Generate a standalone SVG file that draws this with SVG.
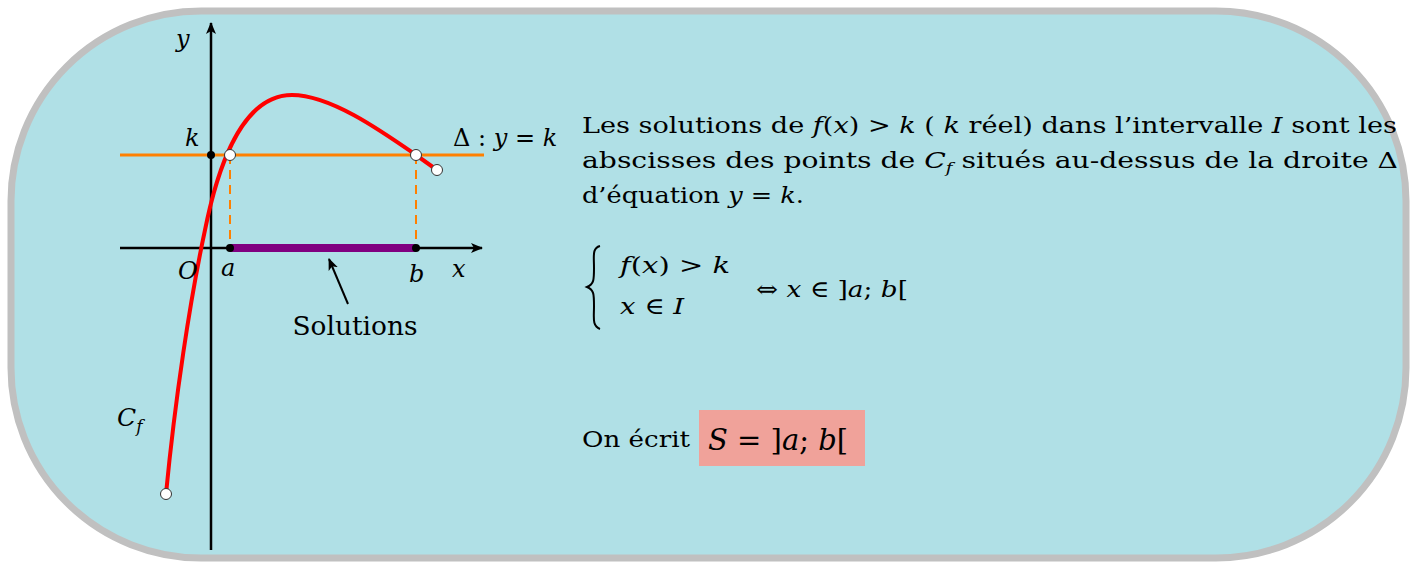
<svg xmlns="http://www.w3.org/2000/svg" width="1415" height="563" viewBox="0 0 1415 563">
<style>
.t{font-family:"DejaVu Serif","Liberation Serif",serif;fill:#000}
.i{font-style:italic}
.m{font-family:"DejaVu Serif","Liberation Serif",serif;font-style:italic;fill:#000}
</style>
<defs>
<marker id="ah" viewBox="0 0 12 10" refX="11" refY="5" markerWidth="12" markerHeight="10" markerUnits="userSpaceOnUse" orient="auto">
<path d="M0,0 L12,5 L0,10 L3,5 Z" fill="#000"/>
</marker>
</defs>
<rect id="frame" x="11" y="11" width="1395" height="547" rx="190" ry="190" fill="#B0E0E6" stroke="#C0C0C0" stroke-width="7"/>
<g id="graph">
<line x1="120" y1="155" x2="484" y2="155" stroke="#FF8000" stroke-width="3"/>
<line x1="230" y1="155" x2="230" y2="248" stroke="#FF8000" stroke-width="2" stroke-dasharray="9,6"/>
<line x1="416" y1="155" x2="416" y2="248" stroke="#FF8000" stroke-width="2" stroke-dasharray="9,6"/>
<line x1="120" y1="248" x2="482" y2="248" stroke="#000" stroke-width="2.5" marker-end="url(#ah)"/>
<line x1="211" y1="550" x2="211" y2="23" stroke="#000" stroke-width="2.5" marker-end="url(#ah)"/>
<line x1="230" y1="248" x2="416" y2="248" stroke="#800080" stroke-width="8"/>
<path d="M166,494 C175,400 190,300 205,230 C215,180 238,95 292,95 C330,95 380,130 416,155 L437,170" fill="none" stroke="#FF0000" stroke-width="4"/>
<circle cx="211" cy="155" r="4" fill="#000"/>
<circle cx="230" cy="248" r="4" fill="#000"/>
<circle cx="416" cy="248" r="4" fill="#000"/>
<circle cx="230" cy="155" r="5.5" fill="#fff" stroke="#333" stroke-width="1"/>
<circle cx="416" cy="155" r="5.5" fill="#fff" stroke="#333" stroke-width="1"/>
<circle cx="437" cy="170" r="5.5" fill="#fff" stroke="#333" stroke-width="1"/>
<circle cx="166" cy="494" r="5.5" fill="#fff" stroke="#333" stroke-width="1"/>
<text class="m" x="176" y="47" font-size="24">y</text>
<text class="m" x="185" y="146" font-size="24">k</text>
<text class="m" x="178" y="279" font-size="24">O</text>
<text class="m" x="221" y="276" font-size="24">a</text>
<text class="m" x="409" y="282" font-size="24">b</text>
<text class="m" x="452" y="277" font-size="24">x</text>
<text class="t" x="453" y="146" font-size="24">Δ : <tspan class="i">y</tspan> = <tspan class="i">k</tspan></text>
<text class="m" x="117" y="426" font-size="25">C<tspan font-size="17" dy="6">f</tspan></text>
<line x1="348" y1="304" x2="329" y2="259" stroke="#000" stroke-width="2" marker-end="url(#ah)"/>
<text class="t" x="355" y="335" font-size="26" text-anchor="middle" textLength="125" lengthAdjust="spacingAndGlyphs">Solutions</text>
</g>
<g id="text">
<text class="t" x="582" y="133" font-size="23" textLength="815" lengthAdjust="spacingAndGlyphs">Les solutions de <tspan class="i">f</tspan>(<tspan class="i">x</tspan>) &gt; <tspan class="i">k</tspan> ( <tspan class="i">k</tspan> réel) dans l’intervalle <tspan class="i">I</tspan> sont les</text>
<text class="t" x="582" y="168" font-size="23" textLength="816" lengthAdjust="spacingAndGlyphs">abscisses des points de <tspan class="i">C</tspan><tspan class="i" font-size="15" dy="5">f</tspan><tspan dy="-5"> situés au-dessus de la droite Δ</tspan></text>
<text class="t" x="582" y="203" font-size="23" textLength="222" lengthAdjust="spacingAndGlyphs">d’équation <tspan class="i">y</tspan> = <tspan class="i">k</tspan>.</text>
<path d="M600,246 C592,248 594,256 594,268 C594,280 594,284 587,287 C594,290 594,294 594,306 C594,318 592,326 600,329" fill="none" stroke="#000" stroke-width="2"/>
<text class="t" x="620" y="273" font-size="23" textLength="110" lengthAdjust="spacingAndGlyphs"><tspan class="i">f</tspan>(<tspan class="i">x</tspan>) &gt; <tspan class="i">k</tspan></text>
<text class="t" x="620" y="314" font-size="23" textLength="64" lengthAdjust="spacingAndGlyphs"><tspan class="i">x</tspan> ∈ <tspan class="i">I</tspan></text>
<text class="t" x="756" y="297" font-size="23" textLength="152" lengthAdjust="spacingAndGlyphs">⇔  <tspan class="i">x</tspan> ∈ ]<tspan class="i">a</tspan>; <tspan class="i">b</tspan>[</text>
<text class="t" x="582" y="447" font-size="23" textLength="108" lengthAdjust="spacingAndGlyphs">On écrit</text>
<rect x="699" y="410" width="166" height="56" fill="#F0A29A"/>
<text class="t" x="708" y="450" font-size="29"><tspan class="i">S</tspan> = ]<tspan class="i">a</tspan>; <tspan class="i">b</tspan>[</text>
</g>
</svg>
